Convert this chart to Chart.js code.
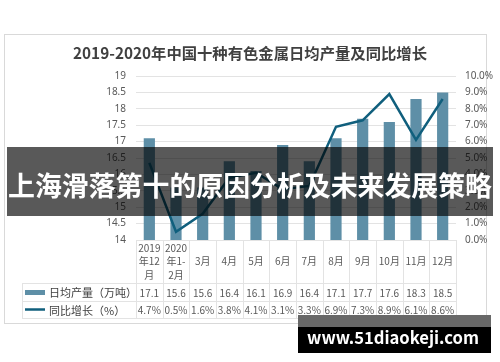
<!DOCTYPE html>
<html>
<head>
<meta charset="utf-8">
<script src="https://cdn.jsdelivr.net/npm/chart.js@4.4.1/dist/chart.umd.min.js"></script>
<style>
  html, body { margin: 0; padding: 0; background: #fff; }
  #wrap { width: 500px; height: 362px; position: relative; }
</style>
</head>
<body>
<div id="wrap"><canvas id="chart" width="500" height="362"></canvas></div>
<script>
const categories = [
  ["2019", "年12", "月"], ["2020", "年1-", "2月"], ["3月"], ["4月"], ["5月"], ["6月"],
  ["7月"], ["8月"], ["9月"], ["10月"], ["11月"], ["12月"]
];
const output = [17.1, 15.6, 15.6, 16.4, 16.1, 16.9, 16.4, 17.1, 17.7, 17.6, 18.3, 18.5];
const growth = [4.7, 0.5, 1.6, 3.8, 4.1, 3.1, 3.3, 6.9, 7.3, 8.9, 6.1, 8.6];
const outputLabel = "日均产量（万吨）";
const growthLabel = "同比增长（%）";
const title = "2019-2020年中国十种有色金属日均产量及同比增长";
const banner = "上海滑落第十的原因分析及未来发展策略";
const site = "www.51diaokeji.com";

const barColor = "#5e8fa7";
const lineColor = "#105f7d";
const gridColor = "#e3e3e3";
const textColor = "#595959";
const FONT = '"Noto Sans", "Noto Sans CJK SC", sans-serif';
const CJK = '"Noto Sans CJK SC", "Noto Sans", sans-serif';

function fitText(ctx, text, weight, width) {
  ctx.font = weight + " 20px " + CJK;
  const size = 20 * width / ctx.measureText(text).width;
  ctx.font = weight + " " + size.toFixed(2) + "px " + CJK;
}

const decor = {
  id: "decor",
  beforeDraw(chart) {
    const ctx = chart.ctx;
    ctx.save();
    ctx.strokeStyle = "#d9d9d9";
    ctx.lineWidth = 1;
    ctx.strokeRect(4.5, 34.5, 482, 289);
    ctx.fillStyle = "#404040";
    fitText(ctx, title, "bold", 354);
    ctx.textAlign = "center";
    ctx.textBaseline = "middle";
    ctx.fillText(title, 250, 53);
    ctx.restore();
  },
  afterDatasetsDraw(chart) {
    const ctx = chart.ctx;
    const x = chart.scales.x;
    const area = chart.chartArea;
    const w = (area.right - area.left) / categories.length;
    const r0 = area.bottom, r1 = 283, r2 = 301, r3 = 318, tl = 22;
    ctx.save();
    ctx.strokeStyle = gridColor;
    ctx.lineWidth = 1;
    ctx.beginPath();
    for (let i = 0; i <= categories.length; i++) {
      const px = Math.round(area.left + i * w) + 0.5;
      ctx.moveTo(px, r0);
      ctx.lineTo(px, r3);
    }
    [r1, r2, r3].forEach(y => { ctx.moveTo(tl, y + 0.5); ctx.lineTo(area.right, y + 0.5); });
    ctx.moveTo(tl + 0.5, r1);
    ctx.lineTo(tl + 0.5, r3);
    ctx.stroke();

    ctx.fillStyle = textColor;
    ctx.textAlign = "center";
    ctx.textBaseline = "middle";
    ctx.font = "10px " + CJK;
    categories.forEach((lines, i) => {
      const cx = x.getPixelForValue(i);
      const lh = 13.5;
      const mid = (r0 + r1) / 2;
      lines.forEach((t, j) => {
        ctx.fillText(t, cx, mid + (j - (lines.length - 1) / 2) * lh);
      });
      ctx.fillText(output[i].toFixed(1), cx, (r1 + r2) / 2 + 1);
      ctx.fillText(growth[i].toFixed(1) + "%", cx, (r2 + r3) / 2 + 1);
    });

    ctx.fillStyle = barColor;
    ctx.fillRect(25, 290, 20, 5);
    ctx.strokeStyle = lineColor;
    ctx.lineWidth = 2.5;
    ctx.beginPath();
    ctx.moveTo(25, 309.5);
    ctx.lineTo(45, 309.5);
    ctx.stroke();
    ctx.fillStyle = "#404040";
    ctx.textAlign = "left";
    ctx.font = "11px " + CJK;
    ctx.fillText(outputLabel, 49, (r1 + r2) / 2 + 1);
    ctx.fillText(growthLabel, 49, (r2 + r3) / 2 + 1);

    ctx.fillStyle = "rgba(0,0,0,0.65)";
    ctx.fillRect(7, 147, 486, 69);
    ctx.fillStyle = "#ffffff";
    ctx.textAlign = "center";
    fitText(ctx, banner, "bold", 484);
    ctx.fillText(banner, 250, 186);

    ctx.fillStyle = "#686868";
    ctx.fillRect(298, 315, 193, 12);
    ctx.fillStyle = "#000000";
    ctx.fillRect(298, 327, 193, 26);
    ctx.fillStyle = "#ffffff";
    fitText(ctx, site, "bold", 172);
    ctx.fillText(site, 393, 338);
    ctx.restore();
  }
};

new Chart(document.getElementById("chart"), {
  data: {
    labels: categories.map(c => c.join("")),
    datasets: [
      {
        type: "line",
        label: growthLabel,
        data: growth,
        yAxisID: "y1",
        borderColor: lineColor,
        borderWidth: 2.5,
        pointRadius: 0,
        tension: 0,
        order: 0
      },
      {
        type: "bar",
        label: outputLabel,
        data: output,
        yAxisID: "y",
        backgroundColor: barColor,
        categoryPercentage: 1,
        barPercentage: 0.42,
        order: 1
      }
    ]
  },
  options: {
    responsive: false,
    animation: false,
    layout: { padding: { left: 0, right: 0, top: 76, bottom: 122 } },
    plugins: { legend: { display: false }, tooltip: { enabled: false } },
    scales: {
      x: { display: false, offset: true },
      y: {
        position: "left",
        min: 14,
        max: 19,
        ticks: {
          stepSize: 0.5, padding: 10, color: textColor, font: { size: 10, family: FONT },
          callback: v => String(Math.round(v * 10) / 10)
        },
        grid: { color: gridColor, drawTicks: false },
        border: { display: false },
        afterFit(s) { s.width = 136; }
      },
      y1: {
        position: "right",
        min: 0,
        max: 10,
        ticks: {
          stepSize: 1, padding: 9, color: textColor, font: { size: 10, family: FONT },
          callback: v => v.toFixed(1) + "%"
        },
        grid: { display: false, drawTicks: false },
        border: { display: false },
        afterFit(s) { s.width = 44; }
      }
    }
  },
  plugins: [decor]
});
</script>
</body>
</html>
